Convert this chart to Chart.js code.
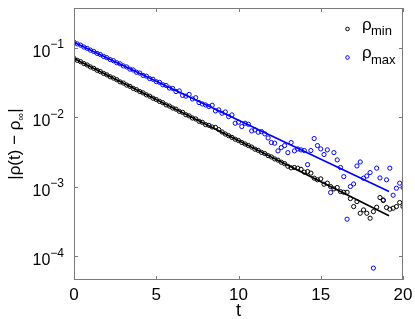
<!DOCTYPE html>
<html>
<head>
<meta charset="utf-8">
<script src="https://cdn.jsdelivr.net/npm/chart.js@4.4.1/dist/chart.umd.min.js"></script>
<style>
  html, body { margin: 0; padding: 0; background: #fff; }
  #wrap { width: 415px; height: 319px; position: relative; }
</style>
</head>
<body>
<div id="wrap"><canvas id="decayChart"></canvas></div>
<script>
// time samples
const tValues = [
  0, 0.2, 0.4, 0.6, 0.8, 1, 1.2, 1.4, 1.6, 1.8,
  2, 2.2, 2.4, 2.6, 2.8, 3, 3.2, 3.4, 3.6, 3.8,
  4, 4.2, 4.4, 4.6, 4.8, 5, 5.2, 5.4, 5.6, 5.8,
  6, 6.2, 6.4, 6.6, 6.8, 7, 7.2, 7.4, 7.6, 7.8,
  8, 8.2, 8.4, 8.6, 8.8, 9, 9.2, 9.4, 9.6, 9.8,
  10, 10.2, 10.4, 10.6, 10.8, 11, 11.2, 11.4, 11.6, 11.8,
  12, 12.2, 12.4, 12.6, 12.8, 13, 13.2, 13.4, 13.6, 13.8,
  14, 14.2, 14.4, 14.6, 14.8, 15, 15.2, 15.4, 15.6, 15.8,
  16, 16.2, 16.4, 16.6, 16.8, 17, 17.2, 17.4, 17.6, 17.8,
  18, 18.2, 18.4, 18.6, 18.8, 19, 19.2, 19.4, 19.6, 19.8,
  20
];

// |rho(t) - rho_inf| for rho_min (black)
const rhoMin = [
  0.0700, 0.0655, 0.0628, 0.0588, 0.0562, 0.0527, 0.0503, 0.0472, 0.0452, 0.0424,
  0.0405, 0.0380, 0.0364, 0.0345, 0.0321, 0.0309, 0.0289, 0.0277, 0.0259, 0.0248,
  0.0233, 0.0223, 0.0209, 0.0200, 0.0187, 0.0179, 0.0168, 0.0161, 0.0150, 0.0144,
  0.0135, 0.0130, 0.0121, 0.0117, 0.0108, 0.0104, 0.0097, 0.0094, 0.0087, 0.0084,
  0.0078, 0.0076, 0.0072, 0.0071, 0.0066, 0.0061, 0.0057, 0.0054, 0.0051, 0.0048,
  0.0046, 0.0043, 0.0041, 0.0039, 0.0037, 0.00345, 0.00332, 0.00310, 0.00298, 0.00279,
  0.00267, 0.00250, 0.00240, 0.00224, 0.00214, 0.00196, 0.00186, 0.00188, 0.00184, 0.00177,
  0.00161, 0.00164, 0.00156, 0.00132, 0.00125, 0.00129, 0.00108, 0.00112, 0.00100, 0.000925,
  0.000968, 0.000847, 0.000828, 0.000828, 0.000671, 0.000515, 0.000608, 0.000413, 0.000461, 0.000413,
  0.000350, 0.000436, 0.000504, 0.000695, 0.000629, 0.000499, 0.000472, 0.000488, 0.000515, 0.000589,
  0.000515
];

// |rho(t) - rho_inf| for rho_max (blue)
const rhoMax = [
  0.1200, 0.1130, 0.1085, 0.1020, 0.0975, 0.0918, 0.0880, 0.0826, 0.0795, 0.0745,
  0.0716, 0.0672, 0.0648, 0.0605, 0.0584, 0.0545, 0.0527, 0.0490, 0.0476, 0.0442,
  0.0430, 0.0398, 0.0388, 0.0358, 0.0350, 0.0323, 0.0316, 0.0292, 0.0285, 0.0262,
  0.0258, 0.0233, 0.0238, 0.0205, 0.0200, 0.0212, 0.0182, 0.0190, 0.01618, 0.01545,
  0.01496, 0.01416, 0.01479, 0.01227, 0.01268, 0.01135, 0.01186, 0.01016, 0.01074, 0.00815,
  0.00844, 0.00730, 0.00815, 0.00789, 0.00632, 0.00653, 0.00605, 0.00618, 0.00573, 0.00501,
  0.00430, 0.00421, 0.00326, 0.00364, 0.00389, 0.00308, 0.00430, 0.00326, 0.00348, 0.00337,
  0.00330, 0.00207, 0.00330, 0.00491, 0.00389, 0.00348, 0.00289, 0.00337, 0.00082, 0.00308,
  0.00242, 0.00188, 0.00139, 0.000339, 0.00100, 0.00109, 0.00198, 0.00226, 0.00132, 0.00142,
  0.00159, 0.000067, 0.00184, 0.00133, 0.000643, 0.00125, 0.00184, 0.00075, 0.000946, 0.00112,
  0.00097
];

// fitted exponential lines (end points)
const fitT = [0, 19.15];
const fitMin = [0.0695, 0.000379];
const fitMax = [0.1194, 0.000847];

// axis ticks
const xTicks = [0, 5, 10, 15, 20];
const yDecades = [-1, -2, -3, -4];

const FONT = "'Liberation Sans', Arial, Helvetica, sans-serif";
const AXIS_GRAY = '#7a7a7a';

function toPoints(xs, ys) {
  return xs.map((x, i) => ({ x: x, y: ys[i] }));
}

const matlabAxes = {
  id: 'matlabAxes',
  afterDraw(chart) {
    const { ctx, chartArea: a, scales } = chart;
    const xs = scales.x, ys = scales.y;
    ctx.save();

    // box
    ctx.strokeStyle = AXIS_GRAY;
    ctx.lineWidth = 1;
    ctx.strokeRect(Math.round(a.left) + 0.5, Math.round(a.top) + 0.5,
      Math.round(a.right - a.left) - 1, Math.round(a.bottom - a.top) - 1);

    // inward ticks
    const tl = 4;
    ctx.beginPath();
    xTicks.forEach(v => {
      const px = Math.round(xs.getPixelForValue(v)) + 0.5;
      ctx.moveTo(px, a.bottom); ctx.lineTo(px, a.bottom - tl);
      ctx.moveTo(px, a.top); ctx.lineTo(px, a.top + tl);
    });
    yDecades.forEach(d => {
      const py = Math.round(ys.getPixelForValue(Math.pow(10, d))) + 0.5;
      ctx.moveTo(a.left, py); ctx.lineTo(a.left + tl, py);
      ctx.moveTo(a.right, py); ctx.lineTo(a.right - tl, py);
    });
    ctx.stroke();

    ctx.fillStyle = '#000';

    // x tick labels
    ctx.font = '17px ' + FONT;
    ctx.textAlign = 'center';
    ctx.textBaseline = 'alphabetic';
    xTicks.forEach(v => {
      ctx.fillText(String(v), xs.getPixelForValue(v), a.bottom + 20);
    });

    // y tick labels 10^d
    yDecades.forEach(d => {
      const py = ys.getPixelForValue(Math.pow(10, d));
      const sup = '\u2212' + Math.abs(d);
      ctx.font = '12px ' + FONT;
      const wSup = ctx.measureText(sup).width;
      ctx.font = '16px ' + FONT;
      const wBase = ctx.measureText('10').width;
      const right = a.left - 10;
      ctx.textAlign = 'left';
      ctx.fillText('10', right - wSup - wBase, py + 9);
      ctx.font = '12px ' + FONT;
      ctx.fillText(sup, right - wSup, py + 0.5);
    });

    // x title
    ctx.font = '18px ' + FONT;
    ctx.textAlign = 'center';
    ctx.fillText('t', (a.left + a.right) / 2, a.bottom + 36);

    // y title with subscript infinity
    ctx.save();
    ctx.translate(20, (a.top + a.bottom) / 2);
    ctx.rotate(-Math.PI / 2);
    const p1 = '|\u03c1(t) \u2212 \u03c1', p2 = '\u221e', p3 = '|';
    ctx.font = '17px ' + FONT;
    const w1 = ctx.measureText(p1).width, w3 = ctx.measureText(p3).width;
    ctx.font = '11px ' + FONT;
    const w2 = ctx.measureText(p2).width;
    let x0 = -(w1 + w2 + w3) / 2;
    ctx.textAlign = 'left';
    ctx.font = '17px ' + FONT;
    ctx.fillText(p1, x0, 0);
    ctx.font = '11px ' + FONT;
    ctx.fillText(p2, x0 + w1, 4);
    ctx.font = '17px ' + FONT;
    ctx.fillText(p3, x0 + w1 + w2, 0);
    ctx.restore();

    // legend
    const entries = [
      { color: '#000000', sub: 'min', y: 29 },
      { color: '#0000ff', sub: 'max', y: 57.5 }
    ];
    entries.forEach(e => {
      ctx.strokeStyle = e.color;
      ctx.lineWidth = 1;
      ctx.beginPath();
      ctx.arc(347.5, e.y, 1.8, 0, Math.PI * 2);
      ctx.stroke();
      ctx.fillStyle = '#000';
      ctx.textAlign = 'left';
      ctx.font = '17px ' + FONT;
      ctx.fillText('\u03c1', 362, e.y + 0.5);
      ctx.font = '13px ' + FONT;
      ctx.fillText(e.sub, 371, e.y + 6);
    });

    ctx.restore();
  }
};

const ctx = document.getElementById('decayChart').getContext('2d');
const decayChart = new Chart(ctx, {
  type: 'scatter',
  data: {
    datasets: [
      {
        label: 'rho_min fit',
        data: toPoints(fitT, fitMin),
        showLine: true,
        borderColor: '#000000',
        borderWidth: 1.6,
        pointRadius: 0
      },
      {
        label: 'rho_max fit',
        data: toPoints(fitT, fitMax),
        showLine: true,
        borderColor: '#0000ff',
        borderWidth: 1.6,
        pointRadius: 0
      },
      {
        label: 'rho_min',
        data: toPoints(tValues, rhoMin),
        showLine: false,
        pointStyle: 'circle',
        pointRadius: 2.1,
        pointBorderWidth: 1,
        borderColor: '#000000',
        backgroundColor: 'rgba(0,0,0,0)'
      },
      {
        label: 'rho_max',
        data: toPoints(tValues, rhoMax),
        showLine: false,
        pointStyle: 'circle',
        pointRadius: 2.1,
        pointBorderWidth: 1,
        borderColor: '#0000ff',
        backgroundColor: 'rgba(0,0,0,0)'
      }
    ]
  },
  options: {
    responsive: true,
    maintainAspectRatio: false,
    animation: false,
    layout: { padding: { top: 8, right: 12, left: 0, bottom: 0 } },
    plugins: {
      legend: { display: false },
      tooltip: { enabled: false }
    },
    scales: {
      x: {
        type: 'linear',
        min: 0,
        max: 20,
        ticks: { display: false },
        grid: { display: false },
        border: { display: false },
        afterFit: s => { s.height = 39; }
      },
      y: {
        type: 'logarithmic',
        min: Math.pow(10, -4.345),
        max: Math.pow(10, -0.43),
        ticks: { display: false },
        grid: { display: false },
        border: { display: false },
        afterFit: s => { s.width = 74; }
      }
    }
  },
  plugins: [matlabAxes]
});
</script>
</body>
</html>
